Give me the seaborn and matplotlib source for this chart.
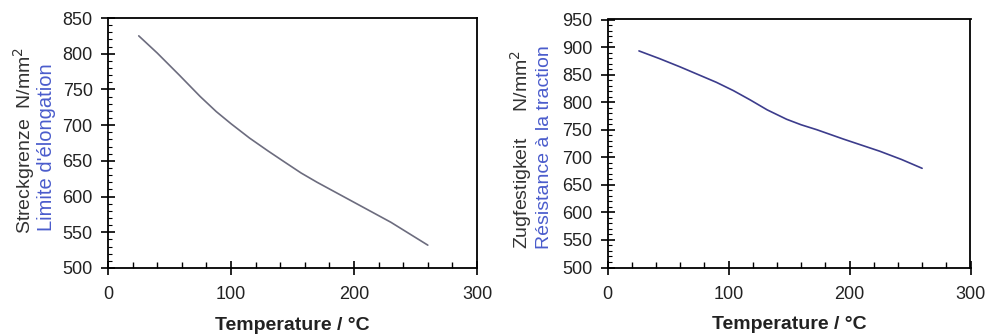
import matplotlib
matplotlib.use("Agg")
import matplotlib.pyplot as plt
import seaborn as sns
import pandas as pd
from matplotlib.ticker import MultipleLocator

sns.set_style("white")
plt.rcParams['font.family'] = ['Liberation Sans', 'DejaVu Sans']

temp_yield = [25, 40, 58, 75, 88, 100, 115, 130, 143, 157, 170, 185, 200, 215, 230, 245, 260]
yield_strength = [825, 801, 770, 740, 719, 702, 682, 664, 649, 633, 620, 606, 592, 578, 564, 548, 532]

temp_tensile = [26, 43, 60, 75, 90, 104, 118, 132, 148, 160, 173, 195, 210, 225, 243, 260]
tensile_strength = [893, 879, 864, 850, 836, 821, 804, 786, 769, 759, 750, 733, 722, 711, 696, 680]

xlabel = "Temperature / °C"
ylabel_left_de = "Streckgrenze  N/mm$^2$"
ylabel_left_fr = "Limite d'élongation"
ylabel_right_de = "Zugfestigkeit     N/mm$^2$"
ylabel_right_fr = "Résistance à la traction"

W, H = 1003, 336
fig = plt.figure(figsize=(W / 100, H / 100), dpi=100)
ax1 = fig.add_axes([108 / W, (H - 268) / H, 369 / W, 250 / H])
ax2 = fig.add_axes([607.5 / W, (H - 267.5) / H, 363 / W, 248 / H])

df1 = pd.DataFrame({"T": temp_yield, "v": yield_strength})
df2 = pd.DataFrame({"T": temp_tensile, "v": tensile_strength})
sns.lineplot(data=df1, x="T", y="v", ax=ax1, color="#6c6c7e", linewidth=1.2)
sns.lineplot(data=df2, x="T", y="v", ax=ax2, color="#3c3c8c", linewidth=1.2)

blue = "#4a5ccc"
for ax, (ymin, ymax) in ((ax1, (500, 850)), (ax2, (500, 950))):
    ax.set_xlim(0, 300)
    ax.set_ylim(ymin, ymax)
    ax.xaxis.set_major_locator(MultipleLocator(100))
    ax.xaxis.set_minor_locator(MultipleLocator(20))
    ax.yaxis.set_major_locator(MultipleLocator(50))
    ax.yaxis.set_minor_locator(MultipleLocator(10))
    ax.tick_params(axis="both", which="major", direction="inout", length=10,
                   width=1.2, color="black", labelsize=13, labelcolor="#222222",
                   bottom=True, left=True, top=False, right=False)
    ax.tick_params(axis="x", which="minor", direction="in", length=4, width=1.0,
                   color="black", bottom=True, top=False)
    ax.tick_params(axis="y", which="minor", direction="in", length=3, width=0.8,
                   color="black", left=True, right=False)
    ax.tick_params(axis="x", which="major", pad=8)
    ax.tick_params(axis="y", which="major", pad=6)
    for s in ax.spines.values():
        s.set_color("black")
        s.set_linewidth(1.3)
        s.set_visible(True)
    ax.set_xlabel(xlabel, fontsize=14, fontweight="bold", labelpad=10, color="#222222")
    ax.set_ylabel("")

fig.text(24 / W, 1 - 234 / H, ylabel_left_de, rotation=90, ha="center", va="bottom",
         fontsize=14, color="#333333")
fig.text(47 / W, 1 - 231 / H, ylabel_left_fr, rotation=90, ha="center", va="bottom",
         fontsize=14.5, color=blue)
fig.text(521 / W, 1 - 249 / H, ylabel_right_de, rotation=90, ha="center", va="bottom",
         fontsize=14, color="#333333")
fig.text(545 / W, 1 - 249 / H, ylabel_right_fr, rotation=90, ha="center", va="bottom",
         fontsize=14, color=blue)

fig.savefig("out.png", dpi=100)
